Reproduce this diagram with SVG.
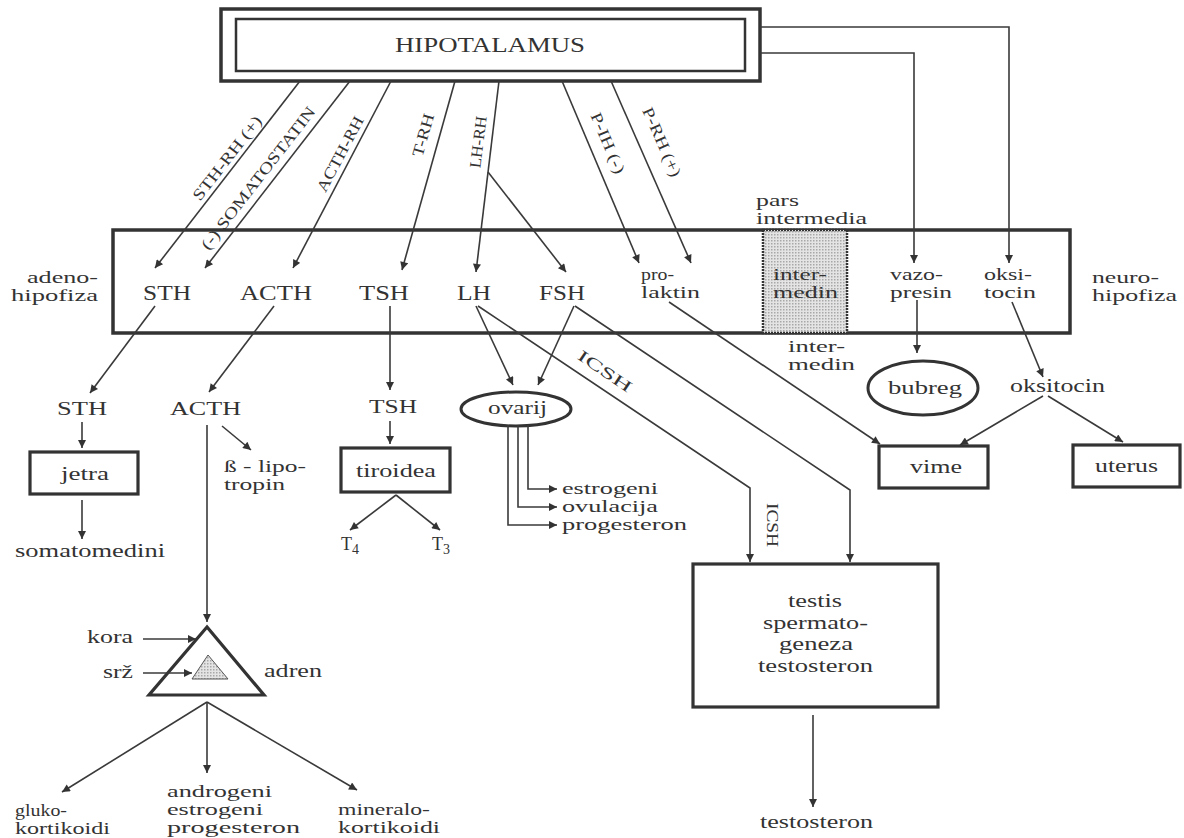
<svg xmlns="http://www.w3.org/2000/svg" width="1184" height="838" viewBox="0 0 1184 838">
<style>
text{font-family:"Liberation Serif","Times New Roman",serif;fill:#333;font-size:18px}
.s{font-size:16px}
.big{font-size:20px}
.box{font-size:21px}
.rot{font-size:16px}
.c{text-anchor:middle}
.ln{fill:none;stroke:#3a3a3a;stroke-width:1.6}
.arr{marker-end:url(#ah)}
.thick{fill:#fff;stroke:#333;stroke-width:3.2}
</style>
<defs>
<marker id="ah" viewBox="0 0 10 10" refX="10" refY="5" markerWidth="10" markerHeight="8" markerUnits="userSpaceOnUse" orient="auto">
<path d="M0,0 L10,5 L0,10 z" fill="#333"/>
</marker>
<pattern id="dots" width="3" height="3" patternUnits="userSpaceOnUse">
<rect width="3" height="3" fill="#e4e4e4"/>
<rect width="1.5" height="1.5" fill="#a8a8a8"/>
</pattern>
</defs>
<rect width="1184" height="838" fill="#fff"/>

<g id="hipotalamus">
<rect x="221" y="9" width="539" height="72" fill="#fff" stroke="#333" stroke-width="3.5"/>
<rect x="236" y="19" width="509" height="52" fill="none" stroke="#333" stroke-width="2.5"/>
<text class="big" x="395" y="52" textLength="190" lengthAdjust="spacingAndGlyphs">HIPOTALAMUS</text>
</g>

<g id="hipofiza">
<rect x="113" y="230" width="957" height="103" fill="#fff" stroke="#333" stroke-width="3.5"/>
<rect x="763" y="230" width="84" height="103" fill="url(#dots)" stroke="#333" stroke-width="2.5" stroke-dasharray="2 1"/>
<text class="s" x="98" y="283" text-anchor="end" textLength="71" lengthAdjust="spacingAndGlyphs">adeno-</text>
<text class="s" x="98" y="301" text-anchor="end" textLength="87" lengthAdjust="spacingAndGlyphs">hipofiza</text>
<text class="s" x="756" y="206" textLength="43" lengthAdjust="spacingAndGlyphs">pars</text>
<text class="s" x="756" y="224" textLength="111" lengthAdjust="spacingAndGlyphs">intermedia</text>
<text class="s" x="1092" y="283" textLength="67" lengthAdjust="spacingAndGlyphs">neuro-</text>
<text class="s" x="1092" y="301" textLength="85" lengthAdjust="spacingAndGlyphs">hipofiza</text>
</g>

<g id="sth"><text class="box" x="143" y="300" textLength="48" lengthAdjust="spacingAndGlyphs">STH</text></g>
<g id="acth"><text class="box" x="240" y="300" textLength="72" lengthAdjust="spacingAndGlyphs">ACTH</text></g>
<g id="tsh"><text class="box" x="359" y="300" textLength="50" lengthAdjust="spacingAndGlyphs">TSH</text></g>
<g id="lh"><text class="box" x="457" y="300" textLength="34" lengthAdjust="spacingAndGlyphs">LH</text></g>
<g id="fsh"><text class="box" x="539" y="300" textLength="46" lengthAdjust="spacingAndGlyphs">FSH</text></g>
<g id="prolaktin">
<text class="s" x="641" y="280" textLength="33" lengthAdjust="spacingAndGlyphs">pro-</text>
<text class="s" x="641" y="298" textLength="59" lengthAdjust="spacingAndGlyphs">laktin</text>
</g>
<g id="intermedin">
<text class="s" x="773" y="280" textLength="54" lengthAdjust="spacingAndGlyphs">inter-</text>
<text class="s" x="773" y="298" textLength="65" lengthAdjust="spacingAndGlyphs">medin</text>
</g>
<g id="vazopresin">
<text class="s" x="890" y="280" textLength="53" lengthAdjust="spacingAndGlyphs">vazo-</text>
<text class="s" x="890" y="298" textLength="62" lengthAdjust="spacingAndGlyphs">presin</text>
</g>
<g id="oksitocin-np">
<text class="s" x="984" y="280" textLength="48" lengthAdjust="spacingAndGlyphs">oksi-</text>
<text class="s" x="984" y="298" textLength="52" lengthAdjust="spacingAndGlyphs">tocin</text>
</g>

<g id="intermedin-out">
<text class="s" x="788" y="352" textLength="57" lengthAdjust="spacingAndGlyphs">inter-</text>
<text class="s" x="788" y="370" textLength="67" lengthAdjust="spacingAndGlyphs">medin</text>
</g>
<g id="bubreg">
<ellipse cx="923" cy="388" rx="55" ry="27" fill="#fff" stroke="#333" stroke-width="3"/>
<text x="888" y="394" textLength="74" lengthAdjust="spacingAndGlyphs">bubreg</text>
</g>
<g id="oksitocin"><text x="1010" y="392" textLength="95" lengthAdjust="spacingAndGlyphs">oksitocin</text></g>
<g id="vime">
<rect class="thick" x="879" y="446" width="109" height="42"/>
<text x="910" y="473" textLength="52" lengthAdjust="spacingAndGlyphs">vime</text>
</g>
<g id="uterus">
<rect class="thick" x="1073" y="445" width="107" height="42"/>
<text x="1095" y="472" textLength="63" lengthAdjust="spacingAndGlyphs">uterus</text>
</g>

<g id="sth2"><text x="57" y="415" textLength="50" lengthAdjust="spacingAndGlyphs">STH</text></g>
<g id="acth2"><text x="170" y="415" textLength="71" lengthAdjust="spacingAndGlyphs">ACTH</text></g>
<g id="tsh2"><text x="369" y="413" textLength="48" lengthAdjust="spacingAndGlyphs">TSH</text></g>
<g id="jetra">
<rect class="thick" x="30" y="452" width="108" height="42"/>
<text x="61" y="480" textLength="48" lengthAdjust="spacingAndGlyphs">jetra</text>
</g>
<g id="somatomedini"><text x="15" y="557" textLength="150" lengthAdjust="spacingAndGlyphs">somatomedini</text></g>
<g id="lipotropin">
<text class="s" x="224" y="472" textLength="82" lengthAdjust="spacingAndGlyphs">ß - lipo-</text>
<text class="s" x="224" y="490" textLength="61" lengthAdjust="spacingAndGlyphs">tropin</text>
</g>
<g id="tiroidea">
<rect class="thick" x="341" y="448" width="109" height="44"/>
<text x="356" y="477" textLength="80" lengthAdjust="spacingAndGlyphs">tiroidea</text>
</g>
<g id="t4"><text x="341" y="550">T<tspan font-size="14" dy="4">4</tspan></text></g>
<g id="t3"><text x="432" y="550">T<tspan font-size="14" dy="4">3</tspan></text></g>

<g id="ovarij">
<ellipse cx="516" cy="409" rx="55" ry="17" fill="#fff" stroke="#333" stroke-width="3"/>
<text x="488" y="414" textLength="59" lengthAdjust="spacingAndGlyphs">ovarij</text>
</g>
<g id="ovarij-out">
<text class="s" x="562" y="494" textLength="96" lengthAdjust="spacingAndGlyphs">estrogeni</text>
<text class="s" x="562" y="512" textLength="96" lengthAdjust="spacingAndGlyphs">ovulacija</text>
<text class="s" x="562" y="530" textLength="125" lengthAdjust="spacingAndGlyphs">progesteron</text>
</g>

<g id="testis">
<rect class="thick" x="693" y="564" width="245" height="143"/>
<text x="788" y="607" textLength="54" lengthAdjust="spacingAndGlyphs">testis</text>
<text x="763" y="629" textLength="105" lengthAdjust="spacingAndGlyphs">spermato-</text>
<text x="779" y="650" textLength="74" lengthAdjust="spacingAndGlyphs">geneza</text>
<text x="758" y="672" textLength="115" lengthAdjust="spacingAndGlyphs">testosteron</text>
</g>
<g id="testosteron"><text x="760" y="828" textLength="113" lengthAdjust="spacingAndGlyphs">testosteron</text></g>

<g id="adren">
<polygon points="207,627 149,695 264,695" fill="#fff" stroke="#333" stroke-width="3.2" stroke-linejoin="miter"/>
<polygon points="208,655 192,679 228,679" fill="url(#dots)" stroke="#555" stroke-width="1"/>
<text x="87" y="643" textLength="46" lengthAdjust="spacingAndGlyphs">kora</text>
<text x="103" y="678" textLength="30" lengthAdjust="spacingAndGlyphs">srž</text>
<text x="264" y="677" textLength="58" lengthAdjust="spacingAndGlyphs">adren</text>
</g>
<g id="glukokortikoidi">
<text class="s" x="15" y="816" textLength="52" lengthAdjust="spacingAndGlyphs">gluko-</text>
<text class="s" x="15" y="834" textLength="95" lengthAdjust="spacingAndGlyphs">kortikoidi</text>
</g>
<g id="spolni">
<text class="s" x="167" y="797" textLength="105" lengthAdjust="spacingAndGlyphs">androgeni</text>
<text class="s" x="167" y="815" textLength="96" lengthAdjust="spacingAndGlyphs">estrogeni</text>
<text class="s" x="167" y="833" textLength="133" lengthAdjust="spacingAndGlyphs">progesteron</text>
</g>
<g id="mineralokortikoidi">
<text class="s" x="338" y="815" textLength="92" lengthAdjust="spacingAndGlyphs">mineralo-</text>
<text class="s" x="338" y="833" textLength="102" lengthAdjust="spacingAndGlyphs">kortikoidi</text>
</g>

<g id="connectors">
<path class="ln arr" d="M300,81 L155,268"/>
<path class="ln arr" d="M350,81 L205,268"/>
<path class="ln arr" d="M391,81 L293,268"/>
<path class="ln arr" d="M455,81 L402,270"/>
<path class="ln arr" d="M499,81 L476,272"/>
<path class="ln arr" d="M488,172 L566,272"/>
<path class="ln arr" d="M562,81 L639,263"/>
<path class="ln arr" d="M611,81 L691,263"/>
<path class="ln arr" d="M760,53 H914 V263"/>
<path class="ln arr" d="M760,27 H1009 V263"/>
<path class="ln arr" d="M155,306 L90,393"/>
<path class="ln arr" d="M274,306 L209,392"/>
<path class="ln arr" d="M390,306 V390"/>
<path class="ln arr" d="M476,306 L513,385"/>
<path class="ln arr" d="M574,306 L538,385"/>
<path class="ln arr" d="M478,306 L750,488 V562"/>
<path class="ln arr" d="M575,306 L850,490 V562"/>
<path class="ln arr" d="M669,302 L880,444"/>
<path class="ln arr" d="M917,300 V353"/>
<path class="ln arr" d="M1012,302 L1043,377"/>
<path class="ln arr" d="M1043,396 L960,445"/>
<path class="ln arr" d="M1048,396 L1123,442"/>
<path class="ln arr" d="M82,422 V448"/>
<path class="ln arr" d="M82,500 V539"/>
<path class="ln arr" d="M222,426 L251,450"/>
<path class="ln arr" d="M207,425 V622"/>
<path class="ln arr" d="M390,421 V444"/>
<path class="ln arr" d="M396,495 L350,530"/>
<path class="ln arr" d="M396,495 L440,530"/>
<path class="ln arr" d="M528,425 V489 H557"/>
<path class="ln arr" d="M518,425 V507 H557"/>
<path class="ln arr" d="M508,425 V525 H557"/>
<path class="ln arr" d="M143,639 H196"/>
<path class="ln arr" d="M143,673 H192"/>
<path class="ln arr" d="M207,702 L62,792"/>
<path class="ln arr" d="M207,702 V773"/>
<path class="ln arr" d="M207,702 L357,790"/>
<path class="ln arr" d="M813,715 V807"/>
<text class="rot c" transform="translate(227,158) rotate(-52.2)" dominant-baseline="central" textLength="102" lengthAdjust="spacingAndGlyphs">STH-RH (+)</text>
<text class="rot c" transform="translate(258,178) rotate(-52.2)" dominant-baseline="central" textLength="176" lengthAdjust="spacingAndGlyphs">(-) SOMATOSTATIN</text>
<text class="rot c" transform="translate(340,154) rotate(-62.3)" dominant-baseline="central" textLength="83" lengthAdjust="spacingAndGlyphs">ACTH-RH</text>
<text class="rot c" transform="translate(423,135) rotate(-74.3)" dominant-baseline="central" textLength="44" lengthAdjust="spacingAndGlyphs">T-RH</text>
<text class="rot c" transform="translate(478,142) rotate(-83)" dominant-baseline="central" textLength="52" lengthAdjust="spacingAndGlyphs">LH-RH</text>
<text class="rot c" transform="translate(608,143) rotate(67)" dominant-baseline="central" textLength="65" lengthAdjust="spacingAndGlyphs">P-IH (-)</text>
<text class="rot c" transform="translate(662,142) rotate(66.3)" dominant-baseline="central" textLength="74" lengthAdjust="spacingAndGlyphs">P-RH (+)</text>
<text class="rot c" transform="translate(605,371) rotate(34)" dominant-baseline="central" textLength="62" lengthAdjust="spacingAndGlyphs">ICSH</text>
<text class="rot c" transform="translate(772,525) rotate(90)" dominant-baseline="central" textLength="44" lengthAdjust="spacingAndGlyphs">ICSH</text>
</g>
</svg>
